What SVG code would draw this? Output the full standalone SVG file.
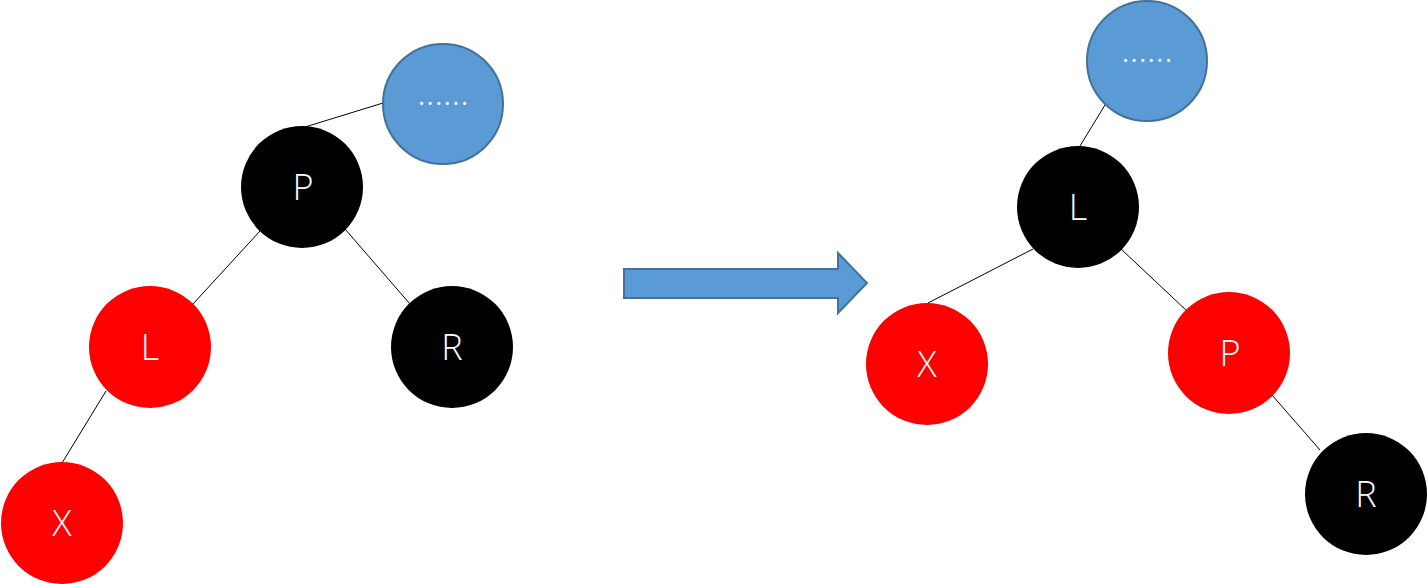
<svg xmlns="http://www.w3.org/2000/svg" width="1427" height="584" viewBox="0 0 1427 584">
<style>
.red{fill:#FF0000}
.blk{fill:#000000}
.blue{fill:#5B9BD5;stroke:#41719C;stroke-width:2}
.t{fill:#FFFFFF;font-family:"Open Sans","Noto Sans","DejaVu Sans",sans-serif;font-weight:300;font-size:36px;text-anchor:middle}
.e{stroke:#000;stroke-width:1;fill:none}
</style>
<rect width="1427" height="584" fill="#FFFFFF"/>
<g id="connectors">
<line class="e" x1="305" y1="127" x2="383" y2="103"/>
<line class="e" x1="260" y1="231" x2="193" y2="304"/>
<line class="e" x1="345" y1="229" x2="410" y2="304"/>
<line class="e" x1="106" y1="391" x2="62" y2="463"/>
<line class="e" x1="1105" y1="105" x2="1080" y2="146"/>
<line class="e" x1="1033" y1="249" x2="928" y2="303"/>
<line class="e" x1="1121" y1="249" x2="1187" y2="311"/>
<line class="e" x1="1272" y1="395" x2="1320" y2="450"/>
</g>
<g id="arrow">
<polygon class="blue" points="624,269 838,269 838,253 867,283 838,313 838,298 624,298"/>
</g>
<g id="left-top"><circle class="blue" cx="443" cy="104" r="60"/><text class="t" x="443" y="105">......</text></g>
<g id="left-P"><circle class="blk" cx="302" cy="187" r="61"/><text class="t" x="303" y="200">P</text></g>
<g id="left-L"><circle class="red" cx="150" cy="347" r="61"/><text class="t" x="150" y="360">L</text></g>
<g id="left-R"><circle class="blk" cx="452" cy="347" r="61"/><text class="t" x="452" y="360">R</text></g>
<g id="left-X"><circle class="red" cx="62" cy="523" r="61"/><text class="t" x="62" y="536">X</text></g>
<g id="right-top"><circle class="blue" cx="1147" cy="61" r="60"/><text class="t" x="1147" y="62">......</text></g>
<g id="right-L"><circle class="blk" cx="1078" cy="207" r="61"/><text class="t" x="1078" y="220">L</text></g>
<g id="right-X"><circle class="red" cx="927" cy="364" r="61"/><text class="t" x="927" y="377">X</text></g>
<g id="right-P"><circle class="red" cx="1229" cy="353" r="61"/><text class="t" x="1230" y="366">P</text></g>
<g id="right-R"><circle class="blk" cx="1366" cy="494" r="61"/><text class="t" x="1366" y="507">R</text></g>
</svg>
